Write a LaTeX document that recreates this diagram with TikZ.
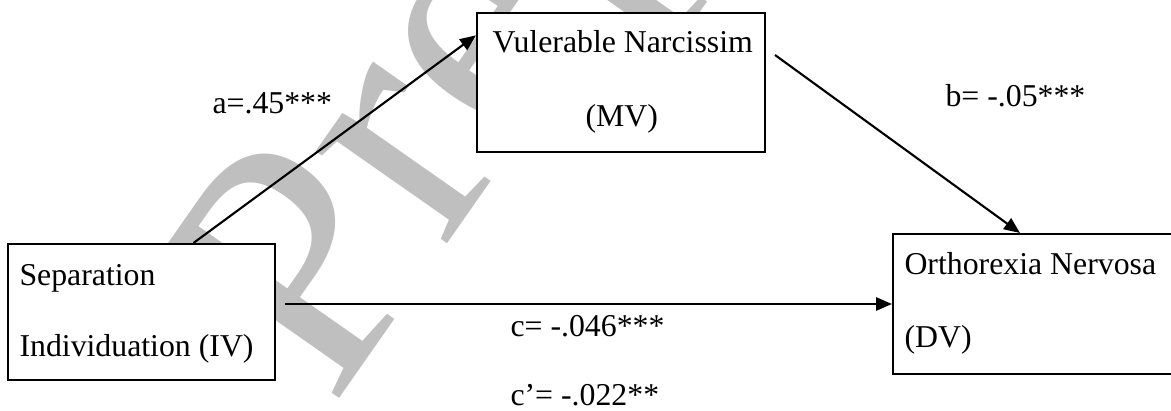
\documentclass[tikz,border=0pt]{standalone}
\usepackage{fontspec}
\setmainfont{Liberation Serif}
\usepackage{tikz}
\usetikzlibrary{arrows.meta,fit}
\definecolor{wmgray}{RGB}{191,191,191}

\begin{document}
\begin{tikzpicture}[x=0.3774pt,y=-0.3774pt,
  >={Triangle[length=6pt,width=5pt]},
  box/.style={draw,fill=white,line width=0.8pt,inner sep=0pt},
  lbl/.style={anchor=base west,inner sep=0pt,font=\fontsize{12}{14}\selectfont},
  arr/.style={->,line width=0.8pt}]

\useasboundingbox (0,0) rectangle (1171,411);

% watermark behind everything
\node[rotate=55,anchor=base west,inner sep=0pt,text=wmgray,
  font=\fontsize{132}{132}\selectfont] (wm) at (332,409) {Preprint};

% the three variables
\node[box,fit={(8,244) (275,380)}] (iv) {};
\node[box,fit={(477,13) (765,152)}] (mv) {};
\node[box,fit={(893,234) (1185,374)}] (dv) {};

\node[lbl] (ivA) at (19,285) {Separation};
\node[lbl] (ivB) at (19,356) {Individuation (IV)};
\node[lbl] (mvA) at (492,53) {Vulerable Narcissim};
\node[lbl] (mvB) at (585,126) {(MV)};
\node[lbl] (dvA) at (904,274) {Orthorexia Nervosa};
\node[lbl] (dvB) at (904,347) {(DV)};

% paths
\coordinate (b0) at (775,55);
\coordinate (c0) at (285,304);
\draw[arr] (iv.53) -- (mv.162.5);
\draw[arr] (b0) -- (dv.105);
\draw[arr] (c0) -- (dv.west);

\node[lbl] (la) at (212,113) {a=.45***};
\node[lbl] (lb) at (945,106) {b= -.05***};
\node[lbl] (lc) at (510,336) {c= -.046***};
\node[lbl] (lc2) at (510,405) {c’= -.022**};

\end{tikzpicture}
\end{document}
